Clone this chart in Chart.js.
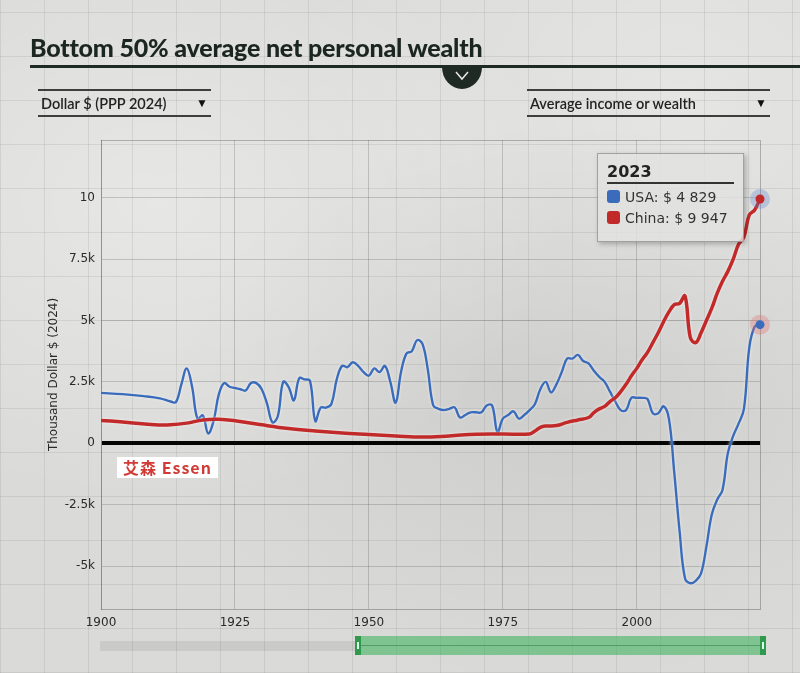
<!DOCTYPE html>
<html>
<head>
<meta charset="utf-8">
<script src="https://cdn.jsdelivr.net/npm/chart.js@4.4.0/dist/chart.umd.min.js"></script>
<style>
  html, body { margin:0; padding:0; width:800px; height:673px; overflow:hidden; }
  body {
    position:relative;
    background-color:#dadad8;
    background-image:
      repeating-linear-gradient(0deg, rgba(60,60,60,0.10) 0 1px, transparent 1px 44px),
      repeating-linear-gradient(90deg, rgba(60,60,60,0.10) 0 1px, transparent 1px 44px),
      radial-gradient(ellipse at 20% 30%, rgba(255,255,255,0.35), transparent 45%),
      radial-gradient(ellipse at 70% 60%, rgba(0,0,0,0.06), transparent 50%),
      radial-gradient(ellipse at 85% 15%, rgba(255,255,255,0.3), transparent 40%);
    font-family: "DejaVu Sans", sans-serif;
  }
  #chart { position:absolute; left:0; top:0; }
  .title { position:absolute; left:30px; top:32px; font-family:Lato, sans-serif; font-weight:900; font-size:25px; color:#1c2620; letter-spacing:-0.2px; white-space:nowrap; }
  .rule { position:absolute; left:30px; right:0; top:65px; height:3px; background:#1f2a24; }
  .chev { position:absolute; left:442px; top:67px; width:40px; height:22px; background:#1f2a24; border-radius:0 0 20px 20px / 0 0 22px 22px; }
  .chev svg { position:absolute; left:13px; top:4px; }
  .dd { position:absolute; top:89px; height:24px; border-top:2px solid #3d3f3d; border-bottom:2px solid #3d3f3d; font-family:Lato, sans-serif; font-weight:600; font-size:14.5px; color:#222; }
  .dd span { position:absolute; left:3px; top:4px; white-space:nowrap; }
  .dd i { position:absolute; right:3px; top:4px; font-style:normal; font-size:12px; color:#111; }
  .tip { position:absolute; left:597px; top:153px; width:145px; height:87px; background:rgba(226,226,224,0.82); border:1px solid rgba(110,110,110,0.55); box-shadow:2px 2px 5px rgba(0,0,0,0.25); }
  .tip .t { position:absolute; left:9px; top:8px; font-weight:bold; font-size:16px; color:#222; }
  .tip .u { position:absolute; left:9px; top:28px; width:127px; height:2px; background:#333; }
  .tip .row { position:absolute; left:9px; font-size:14px; color:#333; white-space:nowrap; }
  .tip .sq { display:inline-block; width:13px; height:13px; border-radius:3px; vertical-align:-1px; margin-right:5px; }
  .essen { position:absolute; left:117px; top:457px; width:101px; height:21px; background:#fff; color:#d23a36; font-family:"Noto Sans CJK SC", sans-serif; font-weight:bold; font-size:16px; line-height:21px; text-align:center; letter-spacing:1px; }
  .track { position:absolute; left:100px; top:641px; width:256px; height:10px; background:rgba(0,0,0,0.07); }
  .range { position:absolute; left:355px; top:636px; width:411px; height:19px; background:rgba(70,180,100,0.62); }
  .range .mid { position:absolute; left:4px; right:4px; top:9px; height:1px; background:rgba(40,120,60,0.5); }
  .h { position:absolute; top:0; width:6px; height:19px; background:#2f9a4c; }
  .h b { position:absolute; left:2px; top:6px; width:2px; height:7px; border-left:1px solid #dfe; border-right:1px solid #dfe; box-sizing:border-box; }
</style>
</head>
<body>
<canvas id="chart" width="800" height="673"></canvas>
<div class="title">Bottom 50% average net personal wealth</div>
<div class="rule"></div>
<div class="chev"><svg width="14" height="10" viewBox="0 0 14 10"><polyline points="1,1 7,8 13,1" fill="none" stroke="#e8e8e8" stroke-width="1.5"/></svg></div>
<div class="dd" style="left:38px;width:173px;"><span>Dollar $ (PPP 2024)</span><i>&#9660;</i></div>
<div class="dd" style="left:527px;width:243px;"><span>Average income or wealth</span><i>&#9660;</i></div>
<div class="essen">艾森 Essen</div>
<div class="track"></div>
<div class="range"><div class="mid"></div><div class="h" style="left:0"><b></b></div><div class="h" style="right:0"><b></b></div></div>
<div class="tip" id="tip"></div>
<script>
// ---- data (net personal wealth, dollars PPP 2024) ----
const usaYears = [1900,1904,1908,1911,1913,1914,1915,1916,1917,1918,1919,1920,1921,1922,1923,1924,1925,1926,1927,1928,1929,1930,1931,1932,1933,1934,1935,1936,1937,1938,1939,1940,1941,1942,1943,1944,1945,1946,1947,1948,1949,1950,1951,1952,1953,1954,1955,1956,1957,1958,1959,1960,1961,1962,1963,1964,1965,1966,1967,1968,1969,1970,1971,1972,1973,1974,1975,1976,1977,1978,1979,1980,1981,1982,1983,1984,1985,1986,1987,1988,1989,1990,1991,1992,1993,1994,1995,1996,1997,1998,1999,2000,2001,2002,2003,2004,2005,2006,2007,2008,2009,2010,2011,2012,2013,2014,2015,2016,2017,2018,2019,2020,2021,2022,2023];
const usaValues = [2050,2000,1920,1830,1700,1680,2400,3050,2300,1000,1130,400,900,2000,2450,2300,2250,2200,2150,2450,2450,2200,1600,850,1100,2500,2300,1750,2650,2600,2550,900,1450,1450,1600,2600,3150,3100,3300,3150,2900,2750,3050,2900,3150,2500,1650,2900,3650,3750,4200,4050,3000,1550,1400,1350,1400,1460,1050,1150,1260,1260,1260,1540,1540,450,1000,1150,1300,1000,1150,1350,1600,2200,2500,2070,2400,2900,3450,3450,3600,3350,3250,2950,2700,2500,2100,1700,1350,1350,1850,1850,1850,1800,1220,1220,1500,1000,-1200,-3600,-5500,-5700,-5600,-5300,-4200,-2900,-2300,-1900,-400,300,800,1400,3900,4750,4829];
const chinaYears = [1900,1905,1910,1913,1916,1919,1922,1925,1930,1935,1940,1945,1950,1955,1960,1965,1970,1975,1980,1981,1982,1983,1985,1987,1989,1991,1992,1993,1994,1995,1996,1997,1998,1999,2000,2001,2002,2003,2004,2005,2006,2007,2008,2009,2010,2011,2012,2013,2014,2015,2016,2017,2018,2019,2020,2021,2022,2023];
const chinaValues = [930,850,750,750,820,950,980,920,750,600,500,420,360,300,250,300,370,380,380,500,650,700,720,850,950,1050,1250,1400,1500,1700,1850,2100,2400,2750,3050,3400,3700,4100,4500,4950,5350,5650,5700,6000,4300,4100,4500,5000,5500,6100,6600,7000,7500,8100,8400,9300,9500,9947];
const seriesNames = ["USA", "China"];
const xTickValues = [1900,1925,1950,1975,2000];
const yTickValues = [-5000,-2500,0,2500,5000,7500,10000];
const yTickLabels = ["-5k","-2.5k","0","2.5k","5k","7.5k","10"];
const yAxisTitle = "Thousand Dollar $ (2024)";

const BLUE = "#3b6cbc", RED = "#c22a2a";
const toPts = (xs, ys) => xs.map((x, i) => ({x, y: ys[i]}));

const endMarkers = {
  id: "endMarkers",
  afterDatasetsDraw(chart) {
    const ctx = chart.ctx;
    chart.data.datasets.forEach((ds, i) => {
      const meta = chart.getDatasetMeta(i);
      const el = meta.data[meta.data.length - 1];
      if (!el) return;
      ctx.save();
      ctx.beginPath(); ctx.arc(el.x, el.y, 10, 0, Math.PI * 2);
      ctx.fillStyle = ds.haloColor; ctx.fill();
      ctx.beginPath(); ctx.arc(el.x, el.y, 4.5, 0, Math.PI * 2);
      ctx.fillStyle = ds.borderColor; ctx.fill();
      ctx.restore();
    });
  }
};
const frame = {
  id: "frame",
  beforeDatasetsDraw(chart) {
    const {ctx, chartArea: a} = chart;
    ctx.save();
    ctx.strokeStyle = "rgba(70,70,70,0.35)"; ctx.lineWidth = 1;
    ctx.beginPath();
    ctx.moveTo(a.left, a.top + 0.5); ctx.lineTo(a.right + 0.5, a.top + 0.5); ctx.lineTo(a.right + 0.5, a.bottom);
    ctx.stroke();
    ctx.restore();
  },
  beforeDatasetDraw(chart) {
    chart.ctx.save();
    chart.ctx.shadowColor = "rgba(255,255,255,0.7)";
    chart.ctx.shadowBlur = 3;
  },
  afterDatasetDraw(chart) { chart.ctx.restore(); }
};

new Chart(document.getElementById("chart"), {
  type: "line",
  data: {
    datasets: [
      { label: seriesNames[1], data: toPts(chinaYears, chinaValues), borderColor: RED, borderWidth: 3.5, tension: 0.4, pointRadius: 0, haloColor: "rgba(90,130,205,0.30)" },
      { label: seriesNames[0], data: toPts(usaYears, usaValues), borderColor: BLUE, borderWidth: 2.4, tension: 0.4, pointRadius: 0, haloColor: "rgba(225,110,110,0.32)" }
    ]
  },
  options: {
    responsive: false,
    animation: false,
    events: [],
    layout: { padding: { left: 0, right: 40, top: 140, bottom: 34 } },
    plugins: { legend: { display: false }, tooltip: { enabled: false } },
    scales: {
      x: {
        type: "linear", min: 1900, max: 2023,
        afterBuildTicks: s => { s.ticks = xTickValues.map(v => ({value: v})); },
        afterFit: s => { s.height = 30; },
        ticks: { callback: v => String(v), color: "#2a2a2a", font: { family: "DejaVu Sans", size: 12 }, padding: 7, maxRotation: 0 },
        grid: { color: "rgba(60,60,60,0.22)", drawTicks: false },
        border: { display: true, color: "rgba(60,60,60,0.35)" }
      },
      y: {
        type: "linear", min: -6750, max: 12350,
        afterBuildTicks: s => { s.ticks = yTickValues.map(v => ({value: v})); },
        afterFit: s => { s.width = 101; },
        ticks: { callback: (v, i) => yTickLabels[yTickValues.indexOf(v)], color: "#2a2a2a", font: { family: "DejaVu Sans", size: 12 }, padding: 6 },
        grid: {
          drawTicks: false,
          color: c => (c.tick && c.tick.value === 0) ? "#050505" : "rgba(60,60,60,0.22)",
          lineWidth: c => (c.tick && c.tick.value === 0) ? 4 : 1
        },
        border: { display: true, color: "rgba(60,60,60,0.35)" },
        title: { display: true, text: yAxisTitle, color: "#2a2a2a", font: { family: "DejaVu Sans", size: 12 }, padding: { top: 47, bottom: 0 } }
      }
    }
  },
  plugins: [frame, endMarkers]
});

// tooltip content from data
const fmt = n => "$ " + String(Math.round(n)).replace(/\B(?=(\d{3})+(?!\d))/g, " ");
const lastYear = usaYears[usaYears.length - 1];
document.getElementById("tip").innerHTML =
  '<div class="t">' + lastYear + '</div><div class="u"></div>' +
  '<div class="row" style="top:35px"><span class="sq" style="background:' + BLUE + '"></span>' + seriesNames[0] + ': ' + fmt(usaValues[usaValues.length - 1]) + '</div>' +
  '<div class="row" style="top:56px"><span class="sq" style="background:' + RED + '"></span>' + seriesNames[1] + ': ' + fmt(chinaValues[chinaValues.length - 1]) + '</div>';
</script>
</body>
</html>
